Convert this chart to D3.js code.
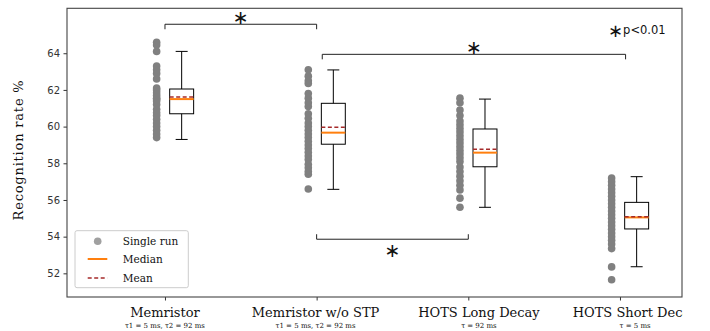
<!DOCTYPE html>
<html>
<head>
<meta charset="utf-8">
<script src="https://cdn.jsdelivr.net/npm/d3@7"></script>
<style>
  body { margin: 0; background: #fff; }
  svg { display: block; }
</style>
</head>
<body>
<figure id="box" style="margin:0"></figure>
<script>
// categories and subtitles
const categories = ["Memristor", "Memristor w/o STP", "HOTS Long Decay", "HOTS Short Decay"];
const subtitles = ["\u03c41 = 5 ms, \u03c42 = 92 ms", "\u03c41 = 5 ms, \u03c42 = 92 ms", "\u03c4 = 92 ms", "\u03c4 = 5 ms"];
// where each label sits, in category units (labels 3 and 4 sit right of their tick)
const labelPos = [0, 0.993, 2.07, 3.1];

// single runs (recognition rate %)
const runsMemristor = [64.6, 64.45, 64.1, 63.3, 63.1, 62.9, 62.6, 62.1, 62.0, 61.85, 61.7, 61.55, 61.5, 61.4, 61.2, 60.95, 60.75, 60.6, 60.4, 60.2, 60.0, 59.8, 59.6, 59.4];
const runsNoSTP = [63.1, 62.75, 62.5, 62.35, 61.8, 61.55, 61.3, 61.1, 60.7, 60.45, 60.2, 60.0, 59.8, 59.6, 59.4, 59.2, 59.0, 58.8, 58.6, 58.4, 58.2, 57.95, 57.75, 57.55, 57.4, 56.6];
const runsLong = [61.55, 61.3, 60.9, 60.6, 60.3, 60.1, 59.9, 59.7, 59.5, 59.3, 59.1, 58.9, 58.7, 58.5, 58.3, 58.1, 57.8, 57.55, 57.3, 57.05, 56.8, 56.55, 56.1, 55.6];
const runsShort = [57.2, 57.0, 56.8, 56.6, 56.4, 56.2, 56.0, 55.8, 55.6, 55.4, 55.2, 55.0, 54.8, 54.6, 54.4, 54.2, 54.0, 53.8, 53.6, 53.35, 52.35, 51.65];
const runs = [runsMemristor, runsNoSTP, runsLong, runsShort];

// box statistics
const whiskerLow = [59.3, 56.58, 55.6, 52.36];
const q1 = [60.7, 59.04, 57.81, 54.42];
const median = [61.5, 59.67, 58.58, 55.05];
const mean = [61.62, 59.96, 58.76, 55.08];
const q3 = [62.05, 61.27, 59.87, 55.87];
const whiskerHigh = [64.1, 63.09, 61.5, 57.27];

const yTicks = [52, 54, 56, 58, 60, 62, 64];

// significance brackets
const brackets = [
  { from: 0, to: 1, level: 65.58, up: false },
  { from: 1.037, to: 3.037, level: 63.94, up: false },
  { from: 1, to: 2, level: 53.86, up: true }
];

const W = 710, H = 331;
const svg = d3.select("figure#box").append("svg").attr("width", W).attr("height", H);

const x = d3.scaleLinear().domain([-0.646, 3.409]).range([67, 682]);
const y = d3.scaleLinear().domain([50.71, 66.45]).range([297, 8.3]);
const ptOff = -0.055, boxOff = 0.11, boxW = 0.158;

const orange = "#ff7f0e", brown = "#a52a2a", grey = "#808080";

// points
runs.forEach((vals, i) => {
  svg.append("g").selectAll("circle").data(vals).enter().append("circle")
    .attr("cx", x(i + ptOff))
    .attr("cy", d => y(d))
    .attr("r", 3.8)
    .attr("fill", grey);
});

// boxes
const g = svg.append("g");
categories.forEach((c, i) => {
  const cx = x(i + boxOff);
  const bw = x(boxW) - x(0);
  const cap = bw / 2;
  g.append("line").attr("x1", cx).attr("x2", cx).attr("y1", y(q3[i])).attr("y2", y(whiskerHigh[i])).attr("stroke", "#000").attr("stroke-width", 1);
  g.append("line").attr("x1", cx).attr("x2", cx).attr("y1", y(q1[i])).attr("y2", y(whiskerLow[i])).attr("stroke", "#000").attr("stroke-width", 1);
  g.append("line").attr("x1", cx - cap / 2).attr("x2", cx + cap / 2).attr("y1", y(whiskerHigh[i])).attr("y2", y(whiskerHigh[i])).attr("stroke", "#000");
  g.append("line").attr("x1", cx - cap / 2).attr("x2", cx + cap / 2).attr("y1", y(whiskerLow[i])).attr("y2", y(whiskerLow[i])).attr("stroke", "#000");
  g.append("rect").attr("x", cx - bw / 2).attr("y", y(q3[i])).attr("width", bw).attr("height", y(q1[i]) - y(q3[i]))
    .attr("fill", "none").attr("stroke", "#000").attr("stroke-width", 1);
  g.append("line").attr("x1", cx - bw / 2).attr("x2", cx + bw / 2).attr("y1", y(median[i])).attr("y2", y(median[i]))
    .attr("stroke", orange).attr("stroke-width", 2);
  g.append("line").attr("x1", cx - bw / 2).attr("x2", cx + bw / 2).attr("y1", y(mean[i])).attr("y2", y(mean[i]))
    .attr("stroke", brown).attr("stroke-width", 1.5).attr("stroke-dasharray", "4,2.5");
});

// brackets with stars
brackets.forEach(b => {
  const yy = y(b.level);
  const t = b.up ? -5 : 5;
  svg.append("path")
    .attr("d", `M${x(b.from)},${yy + t}V${yy}H${x(b.to)}V${yy + t}`)
    .attr("fill", "none").attr("stroke", "#222").attr("stroke-width", 1);
  svg.append("text")
    .attr("x", (x(b.from) + x(b.to)) / 2)
    .attr("y", b.up ? yy + 10.5 : yy - 7.6)
    .attr("text-anchor", "middle").attr("dominant-baseline", "central")
    .style("font-family", "DejaVu Sans").style("font-size", "19px").attr("fill", "#111")
    .text("\u2217");
});

// p-value note
const note = svg.append("text").attr("x", 608).attr("y", 30).attr("dominant-baseline", "central")
  .style("font-family", "DejaVu Sans").attr("fill", "#111");
note.append("tspan").style("font-size", "18px").text("\u2217");
note.append("tspan").style("font-size", "11.5px").text("p<0.01");

// y axis
const yAxis = svg.append("g").attr("transform", "translate(67,0)")
  .call(d3.axisLeft(y).tickValues(yTicks).tickSize(3.5).tickPadding(3.5).tickFormat(d3.format("d")));
yAxis.select(".domain").remove();
yAxis.selectAll("text").style("font-family", "DejaVu Sans").style("font-size", "10px").attr("fill", "#333");
yAxis.selectAll("line").attr("stroke", "#333");

// x axis
const xAxis = svg.append("g").attr("transform", "translate(0,297)")
  .call(d3.axisBottom(x).tickValues([0, 1, 2, 3]).tickSize(3.5).tickFormat(""));
xAxis.select(".domain").remove();
xAxis.selectAll("line").attr("stroke", "#333");

// frame
svg.append("rect").attr("x", 67).attr("y", 8.3).attr("width", 615).attr("height", 288.7)
  .attr("fill", "none").attr("stroke", "#444").attr("stroke-width", 1.1);

// category labels (cut at the figure edge like the reference)
svg.append("defs").append("clipPath").attr("id", "clip")
  .append("rect").attr("x", 0).attr("y", 0).attr("width", 683).attr("height", H);
const lab = svg.append("g").attr("clip-path", "url(#clip)");
categories.forEach((c, i) => {
  lab.append("text").attr("x", x(labelPos[i])).attr("y", 316.5).attr("text-anchor", "middle")
    .style("font-family", "DejaVu Serif").style("font-size", "13px").attr("fill", "#111").text(c);
  lab.append("text").attr("x", x(labelPos[i])).attr("y", 327.5).attr("text-anchor", "middle")
    .style("font-family", "DejaVu Serif").style("font-size", "7px").attr("fill", "#111").text(subtitles[i]);
});

// y label
svg.append("text").attr("transform", "translate(23,150) rotate(-90)").attr("text-anchor", "middle")
  .style("font-family", "DejaVu Serif").style("font-size", "13px").style("letter-spacing", "0.8px")
  .attr("fill", "#111").text("Recognition rate %");

// legend
const lg = svg.append("g").attr("transform", "translate(75,230.7)");
lg.append("rect").attr("width", 113.3).attr("height", 57).attr("rx", 2)
  .attr("fill", "#fff").attr("fill-opacity", 0.8).attr("stroke", "#ccc");
lg.append("circle").attr("cx", 22.7).attr("cy", 10.5).attr("r", 3.8).attr("fill", "#a0a0a0");
lg.append("line").attr("x1", 12.7).attr("x2", 32.3).attr("y1", 28.3).attr("y2", 28.3).attr("stroke", orange).attr("stroke-width", 2);
lg.append("line").attr("x1", 12.7).attr("x2", 32.3).attr("y1", 47.3).attr("y2", 47.3).attr("stroke", brown).attr("stroke-width", 1.5).attr("stroke-dasharray", "4,2.5");
["Single run", "Median", "Mean"].forEach((t, i) => {
  lg.append("text").attr("x", 47.7).attr("y", [10.5, 28.3, 47.3][i]).attr("dominant-baseline", "central")
    .style("font-family", "DejaVu Serif").style("font-size", "10.5px").attr("fill", "#111").text(t);
});
</script>
</body>
</html>
